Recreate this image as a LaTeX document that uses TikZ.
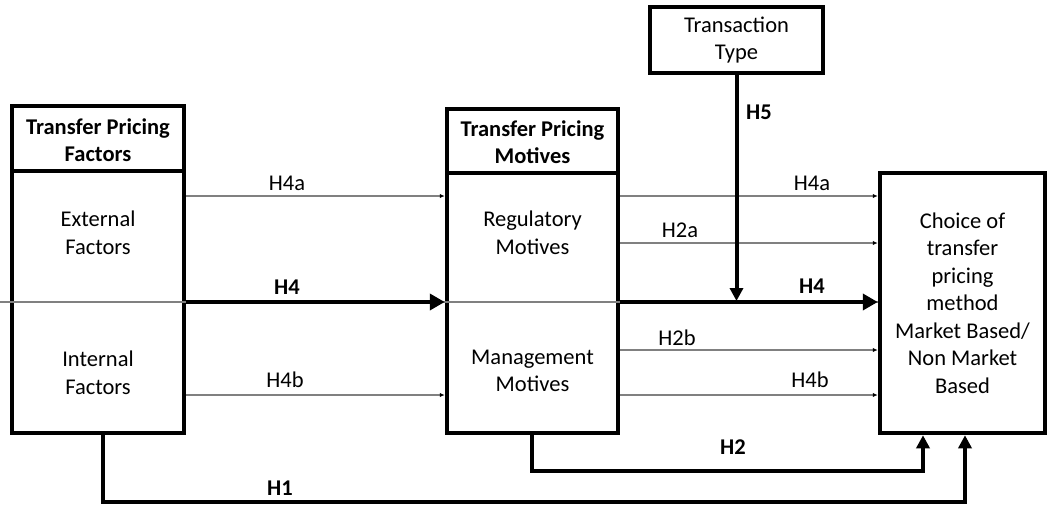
\documentclass[tikz,border=0pt]{standalone}
\usepackage{fontspec}
\setmainfont{Carlito}
\usetikzlibrary{arrows.meta}
\definecolor{linegray}{RGB}{128,128,128}
\begin{document}
\begin{tikzpicture}[x=1pt,y=-1pt,
  frame/.style={draw, line width=4.5pt, inner sep=0pt},
  txt/.style={inner sep=0pt, align=center, font=\fontsize{22.5}{27.5}\selectfont},
  head/.style={txt, font=\fontsize{22.5}{26.5}\selectfont\bfseries},
  lbl/.style={inner sep=0pt, font=\fontsize{22.5}{26}\selectfont},
  blbl/.style={lbl, font=\fontsize{22.5}{26}\selectfont\bfseries},
  thinarrow/.style={draw=linegray, line width=1.2pt, -{Latex[color=black,length=5pt,width=4.5pt]}},
  boldarrow/.style={draw, line width=4pt, -{Triangle[length=15pt,width=16pt]}},
  linkarrow/.style={draw, line width=4pt, -{Triangle[length=13pt,width=13pt]}}
]
\useasboundingbox (0,0) rectangle (1047,506);

% Transfer pricing factors
\node[frame, minimum width=172pt, minimum height=65pt] (lfh) at (98,138.5) {};
\node[head] (lfht) at (98,140) {Transfer Pricing\\Factors};
\node[frame, minimum width=172pt, minimum height=262pt] (lfb) at (98,302) {};
\node[txt] (ext) at (98,233) {External\\Factors};
\node[txt] (int) at (98,373) {Internal\\Factors};

% Transfer pricing motives
\node[frame, minimum width=171pt, minimum height=64pt] (mmh) at (532.5,141) {};
\node[head] (mmht) at (532.5,142) {Transfer Pricing\\Motives};
\node[frame, minimum width=171pt, minimum height=260pt] (mmb) at (532.5,303) {};
\node[txt] (reg) at (532.5,233) {Regulatory\\Motives};
\node[txt] (mgmt) at (532.5,371) {Management\\Motives};

% Moderator and outcome
\node[frame, minimum width=173pt, minimum height=66pt, txt] (tt) at (736.5,40) {Transaction\\Type};
\node[frame, minimum width=165pt, minimum height=260pt, txt] (rb) at (962.5,303)
  {Choice of\\transfer\\pricing\\method\\Market Based/\\Non Market\\Based};

% Divider line running through both blocks
\coordinate (edge) at (0,302);
\draw[linegray, line width=1.2pt] (edge) -- (rb.west |- edge);

% Thin hypothesis arrows
\draw[thinarrow] (lfb.east |- 0,196) -- (mmb.west |- 0,196);
\draw[thinarrow] (lfb.east |- 0,395) -- (mmb.west |- 0,395);
\draw[thinarrow] (mmb.east |- 0,196) -- (rb.west |- 0,196);
\draw[thinarrow] (mmb.east |- 0,243) -- (rb.west |- 0,243);
\draw[thinarrow] (mmb.east |- 0,350) -- (rb.west |- 0,350);
\draw[thinarrow] (mmb.east |- 0,395) -- (rb.west |- 0,395);

% Main paths
\draw[boldarrow] (lfb.east |- edge) -- (mmb.west |- edge);
\draw[boldarrow] (mmb.east |- edge) -- (rb.west |- edge);
\draw[linkarrow] (tt.south) -- (tt.south |- 0,301);
\draw[linkarrow] (mmb.south -| 532,0) -- (532,471) -| (rb.south -| 923,0);
\draw[linkarrow] (lfb.south -| 103,0) -- (103,502) -| (rb.south -| 965,0);

% Labels
\node[lbl] (l4a1) at (287,183) {H4a};
\node[blbl] (l41) at (287,287) {H4};
\node[lbl] (l4b1) at (285,380) {H4b};
\node[lbl] (l4a2) at (812,183) {H4a};
\node[lbl] (l2a) at (680,230) {H2a};
\node[blbl] (l42) at (812,286) {H4};
\node[lbl] (l2b) at (677,338) {H2b};
\node[lbl] (l4b2) at (810,380) {H4b};
\node[blbl] (l5) at (759,112) {H5};
\node[blbl] (l2) at (733,447) {H2};
\node[blbl] (l1) at (280,488) {H1};
\end{tikzpicture}
\end{document}
